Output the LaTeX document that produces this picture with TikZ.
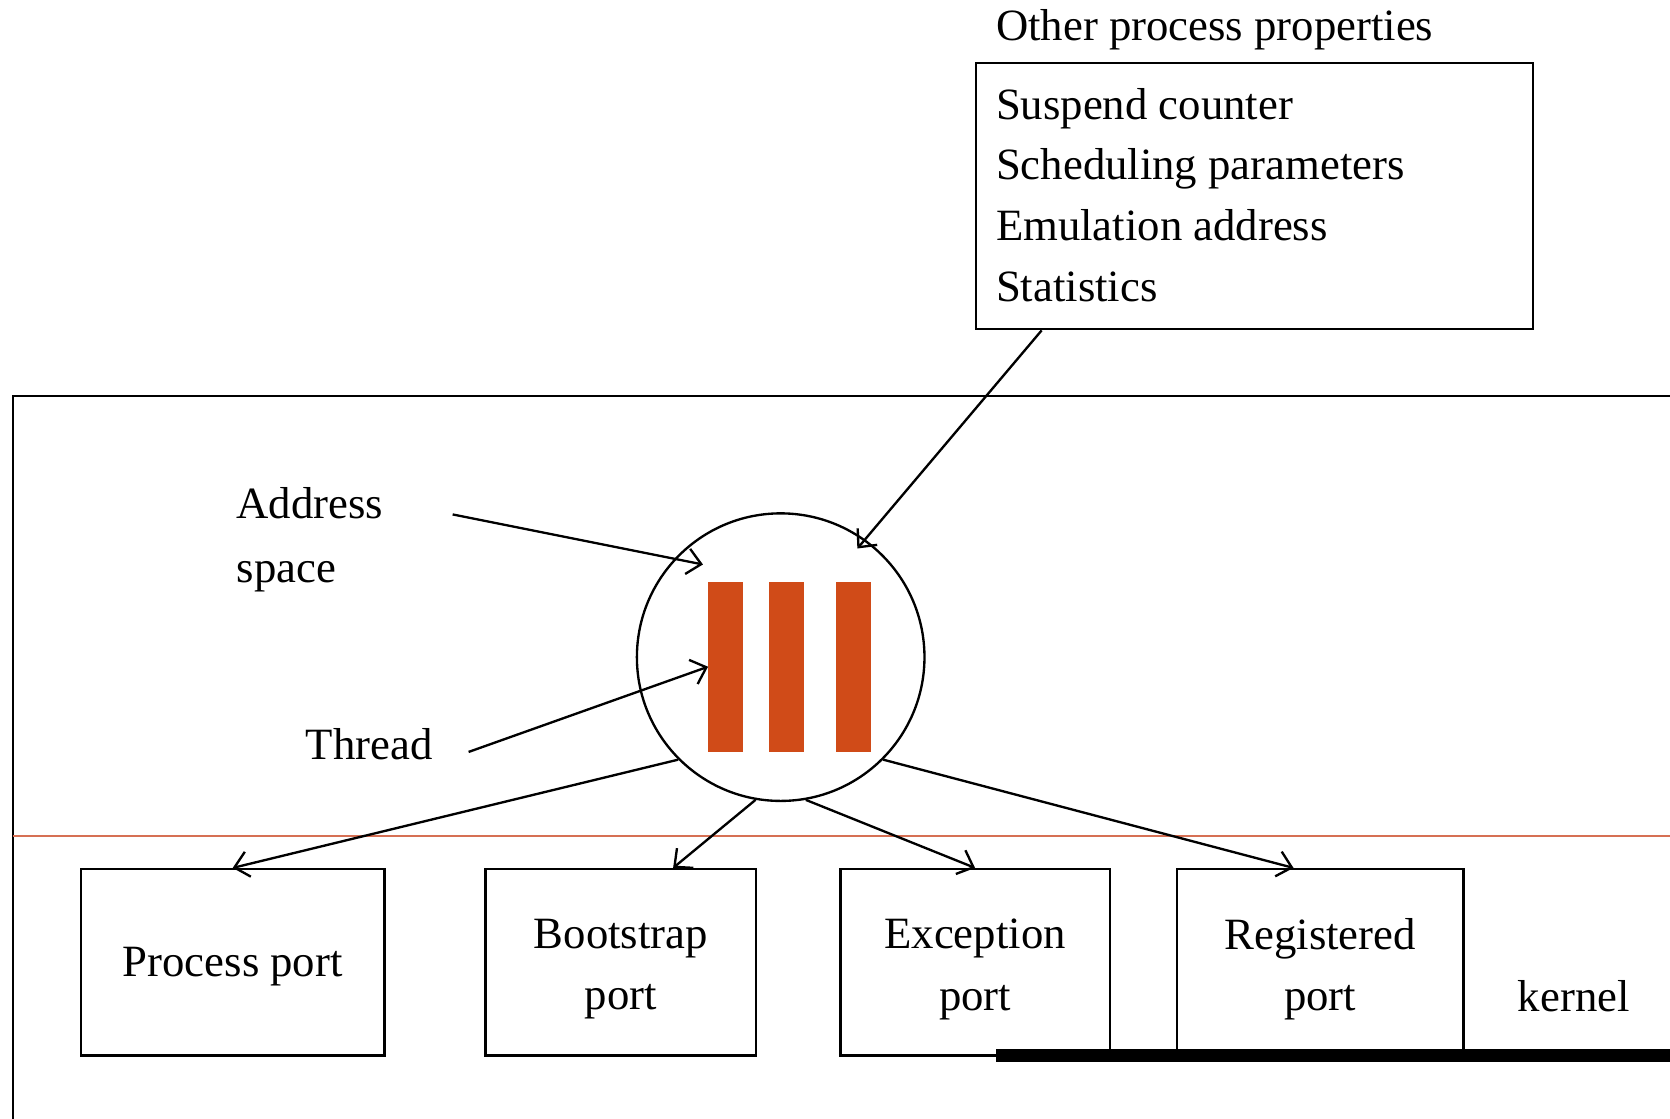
\documentclass[tikz,border=0pt]{standalone}
\usepackage{fontspec}
\setmainfont{Liberation Serif}
\usetikzlibrary{arrows.meta,calc}
\definecolor{barred}{RGB}{208,75,24}
\definecolor{kline}{RGB}{214,112,84}
\begin{document}
\begin{tikzpicture}[x=1pt,y=-1pt,
  lbl/.style={font=\fontsize{42}{57}\selectfont, inner sep=0pt},
  portbox/.style={draw, line width=2.2pt, minimum height=175pt, align=center, inner sep=0pt, font=\fontsize{42}{58}\selectfont},
  conn/.style={line width=2.2pt, -{Straight Barb[length=13pt,width=24pt,line width=2.2pt]}},
  thr/.style={fill=barred, minimum width=33pt, minimum height=160pt, inner sep=0pt}]
\useasboundingbox (0,0) rectangle (1568,1050);
% outer frame and kernel line
\draw[line width=2.2pt] (12,1060) -- (12,372) -- (1580,372);
\draw[kline, line width=2.2pt] (12,785) -- (1580,785);
% properties
\node[lbl, anchor=west] (ptitle) at (935,28) {Other process properties};
\node[draw, line width=2.2pt, minimum width=523pt, minimum height=250pt, anchor=north west, inner sep=0pt] (props) at (915,58) {};
\node[lbl, anchor=west, align=left] (plist) at (935,183) {Suspend counter\\Scheduling parameters\\Emulation address\\Statistics};
% process circle with threads
\node[draw, circle, minimum size=270pt, line width=2.2pt, inner sep=0pt] (proc) at (733,617) {};
\node[thr] (t1) at (681.5,626) {};
\node[thr] (t2) at (738.5,626) {};
\node[thr] (t3) at (801.5,626) {};
% labels
\node[lbl, anchor=west, align=left, font=\fontsize{42}{60}\selectfont] (addr) at (222,507) {Address\\space};
\node[lbl, anchor=west] (thread) at (287,699) {Thread};
\node[lbl, anchor=west] (kern) at (1425,935) {kernel};
% ports
\node[portbox, minimum width=285pt] (pp) at (218.5,903.5) {};
\node[lbl] (ppt) at (218.5,908) {Process port};
\node[portbox, minimum width=254pt] (bp) at (583,903.5) {};
\node[lbl, align=center, font=\fontsize{42}{58}\selectfont] (bpt) at (583,910) {Bootstrap\\port};
\node[portbox, minimum width=253pt] (ep) at (915.5,903.5) {};
\node[lbl, align=center, font=\fontsize{42}{58}\selectfont] (ept) at (915.5,910) {Exception\\port};
\node[portbox, minimum width=269pt] (rp) at (1239.5,903.5) {};
\node[lbl, align=center, font=\fontsize{42}{58}\selectfont] (rpt) at (1239.5,910) {Registered\\port};
% connector endpoints
\coordinate (addrS) at (425,483);
\coordinate (addrE) at (660,530);
\coordinate (thrS) at (440,706);
\coordinate (propE) at (805,515);
% connectors
\draw[conn] (addrS) -- (addrE);
\draw[conn] (thrS) -- (t1.west);
\draw[conn] ($(props.south west)+(63,0)$) -- (propE);
\draw[conn] (proc.-135) -- (pp.north);
\draw[conn] (proc.-100) -- ($(bp.north)+(49,0)$);
\draw[conn] (proc.-80) -- (ep.north);
\draw[conn] (proc.-45) -- ($(rp.north)+(-25,0)$);
% black bar
\fill (935,985) rectangle (1580,997);
\end{tikzpicture}
\end{document}
